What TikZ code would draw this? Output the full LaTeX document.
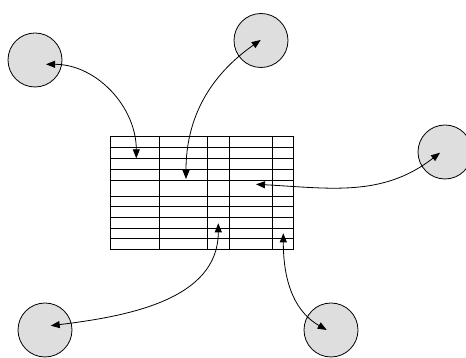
\documentclass[tikz,border=0pt]{standalone}
\usetikzlibrary{arrows.meta}
\tikzset{every node/.style={shape=circle, draw=black, line width=0.8pt, fill=black!13, minimum size=54pt, inner sep=0pt}}
\tikzset{every edge/.style={draw=black, line width=0.8pt, <->, >={Triangle[length=9pt,width=7pt]}}}

\begin{document}
\begin{tikzpicture}[x=1pt, y=1pt]
  \useasboundingbox (0,0) rectangle (466,358);

  % the table
  \draw[line width=0.8pt] (110,109) rectangle (293,221.3);
  \foreach \y in {210.7,199.7,188.7,178,162,151.3,140.7,130,119.3}
    \draw[line width=0.8pt] (110,\y) -- (293,\y);
  \foreach \x in {159,207.3,229,272.3}
    \draw[line width=0.8pt] (\x,109) -- (\x,221.3);

  % the circles
  \node (C1) at (35,298) {};
  \node (C2) at (261,317.5) {};
  \node (C3) at (445,206) {};
  \node (C4) at (45,28) {};
  \node (C5) at (331,28) {};

  % ends of the arrows
  \coordinate (A1) at (46,293.7);
  \coordinate (A2) at (260.7,318);
  \coordinate (A3) at (440,205.3);
  \coordinate (A4) at (50.7,32.3);
  \coordinate (A5) at (326.7,28);

  \coordinate (T1) at (136.3,199.7);
  \coordinate (T2) at (186,179);
  \coordinate (T3) at (256,173.7);
  \coordinate (T4) at (218.3,134.7);
  \coordinate (T5) at (283.3,124.7);

  \path (T1) edge[out=90, in=0] (A1);
  \path (T2) edge[out=90, in=215] (A2);
  \path (T3) edge[out=-3, in=218] (A3);
  \path (T4) edge[out=270, in=7] (A4);
  \path (T5) edge[out=270, in=150] (A5);
\end{tikzpicture}
\end{document}
